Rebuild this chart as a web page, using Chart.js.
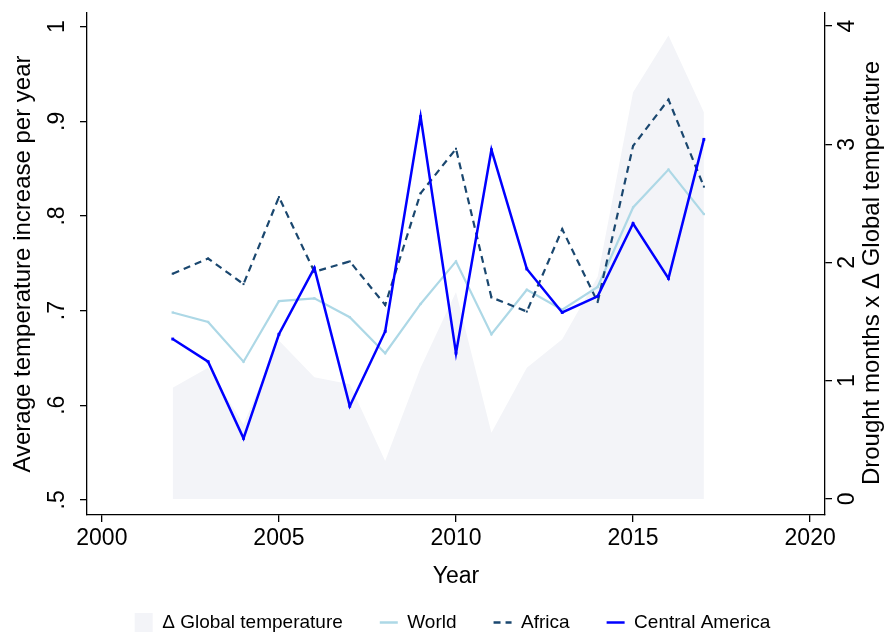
<!DOCTYPE html>
<html><head><meta charset="utf-8">
<script src="https://cdn.jsdelivr.net/npm/chart.js@4.4.1/dist/chart.umd.min.js"></script>
<style>html,body{margin:0;padding:0;background:#fff;}canvas{display:block;}</style>
</head><body>
<canvas id="c" width="888" height="635"></canvas>
<script>
const years = [2002,2003,2004,2005,2006,2007,2008,2009,2010,2011,2012,2013,2014,2015,2016,2017];
const globalTemp = [0.94,1.11,0.63,1.34,1.03,0.97,0.32,1.11,1.75,0.56,1.11,1.35,1.88,3.44,3.92,3.27];
const world = [0.698,0.688,0.646,0.710,0.713,0.693,0.655,0.707,0.752,0.675,0.722,0.701,0.725,0.809,0.849,0.802];
const africa = [0.739,0.755,0.728,0.820,0.741,0.752,0.706,0.824,0.871,0.714,0.699,0.786,0.709,0.874,0.923,0.831];
const centralAmerica = [0.670,0.646,0.565,0.675,0.745,0.599,0.678,0.905,0.655,0.870,0.744,0.698,0.715,0.792,0.734,0.881];
const seriesLabels = ['\u0394 Global temperature','World','Africa','Central America'];
const xTicks = [2000,2005,2010,2015,2020];
const yLeftTicks = [0.5,0.6,0.7,0.8,0.9,1];
const yLeftTickLabels = ['.5','.6','.7','.8','.9','1'];
const yRightTicks = [0,1,2,3,4];
const yRightTickLabels = ['0','1','2','3','4'];
const xTitle = 'Year';
const yLeftTitle = 'Average temperature increase per year';
const yRightTitle = 'Drought months x \u0394 Global temperature';

const FONT = '"Liberation Sans", Arial, sans-serif';
const toXY = arr => years.map((yr, i) => ({x: yr, y: arr[i]}));

const legendStyles = ['rect','line','line','line'];
const legendWidths = [0, 2.5, 2.5, 2.5];

const rightTitlePlugin = {
  id: 'rightTitle',
  afterDraw(chart) {
    const s = chart.scales.yR;
    const ctx = chart.ctx;
    ctx.save();
    ctx.font = '24px ' + FONT;
    ctx.fillStyle = '#000';
    ctx.textAlign = 'center';
    ctx.textBaseline = 'middle';
    ctx.translate(s.left + 47, (s.top + s.bottom) / 2 + 9);
    ctx.rotate(-Math.PI / 2);
    ctx.fillText(yRightTitle, 0, 0);
    ctx.restore();
  }
};

const noPad = s => { s.paddingTop = 0; s.paddingBottom = 0; s.paddingLeft = 0; s.paddingRight = 0; };

const axisCommon = {
  grid: {display: true, drawOnChartArea: false, drawTicks: true, tickLength: 7, color: '#000', lineWidth: 1.3},
  border: {display: true, color: '#000', width: 1.3}
};

new Chart(document.getElementById('c'), {
  type: 'line',
  data: {
    datasets: [
      {label: seriesLabels[0], data: toXY(globalTemp), yAxisID: 'yR', fill: 'origin',
       backgroundColor: '#f3f4f8', borderColor: '#f3f4f8', borderWidth: 0, pointRadius: 0, order: 4},
      {label: seriesLabels[1], data: toXY(world), yAxisID: 'yL', fill: false,
       borderColor: '#add8e6', backgroundColor: '#add8e6', borderWidth: 2.2,
       pointStyle: 'rect', pointRadius: 1.6, pointBorderWidth: 0, order: 3},
      {label: seriesLabels[2], data: toXY(africa), yAxisID: 'yL', fill: false,
       borderColor: '#1a476f', backgroundColor: '#1a476f', borderWidth: 2.2, borderDash: [7, 5],
       pointStyle: 'rect', pointRadius: 1.4, pointBorderWidth: 0, order: 2},
      {label: seriesLabels[3], data: toXY(centralAmerica), yAxisID: 'yL', fill: false,
       borderColor: '#0000ff', backgroundColor: '#0000ff', borderWidth: 2.5,
       pointStyle: 'rect', pointRadius: 2, pointBorderWidth: 0, order: 1}
    ]
  },
  options: {
    responsive: false,
    animation: false,
    devicePixelRatio: 1,
    layout: {padding: {top: 13, left: 0, right: -17, bottom: -7}},
    elements: {line: {tension: 0}},
    plugins: {
      tooltip: {enabled: false},
      legend: {
        position: 'bottom',
        labels: {
          usePointStyle: true,
          pointStyleWidth: 18,
          boxHeight: 19,
          padding: 37,
          color: '#000',
          font: {family: FONT, size: 19},
          generateLabels: chart => chart.data.datasets.map((ds, i) => ({
            text: ds.label,
            fillStyle: ds.backgroundColor,
            strokeStyle: ds.borderColor,
            lineWidth: legendWidths[i],
            lineDash: ds.borderDash || [],
            pointStyle: legendStyles[i],
            hidden: false,
            datasetIndex: i,
            fontColor: '#000'
          }))
        }
      }
    },
    scales: {
      x: {
        type: 'linear', position: 'bottom', min: 1999.58, max: 2020.42,
        ...axisCommon,
        afterBuildTicks: s => { s.ticks = xTicks.map(v => ({value: v})); },
        afterFit: s => { s.height = 61; noPad(s); },
        ticks: {color: '#000', font: {family: FONT, size: 23}, padding: 3, maxRotation: 0, autoSkip: false,
          callback: (v) => String(v)},
        title: {display: true, text: xTitle, color: '#000', font: {family: FONT, size: 23}, padding: {top: 0, bottom: -14}}
      },
      yL: {
        type: 'linear', position: 'left', min: 0.484, max: 1.0145,
        ...axisCommon,
        afterBuildTicks: s => { s.ticks = yLeftTicks.map(v => ({value: v})); },
        afterFit: s => { s.width = 87; noPad(s); },
        ticks: {color: '#000', font: {family: FONT, size: 23}, padding: 13, minRotation: 90, maxRotation: 90,
          crossAlign: 'center', autoSkip: false, callback: (v, i) => yLeftTickLabels[i]},
        title: {display: true, text: yLeftTitle, color: '#000', font: {family: FONT, size: 24}, padding: {top: 9, bottom: 0}}
      },
      yR: {
        type: 'linear', position: 'right', min: -0.136, max: 4.11,
        ...axisCommon,
        afterBuildTicks: s => { s.ticks = yRightTicks.map(v => ({value: v})); },
        afterFit: s => { s.width = 80; noPad(s); },
        ticks: {color: '#000', font: {family: FONT, size: 23}, padding: 9, minRotation: 90, maxRotation: 90,
          crossAlign: 'center', autoSkip: false, callback: (v, i) => yRightTickLabels[i]},
        title: {display: false}
      }
    }
  },
  plugins: [rightTitlePlugin]
});
</script>
</body></html>
